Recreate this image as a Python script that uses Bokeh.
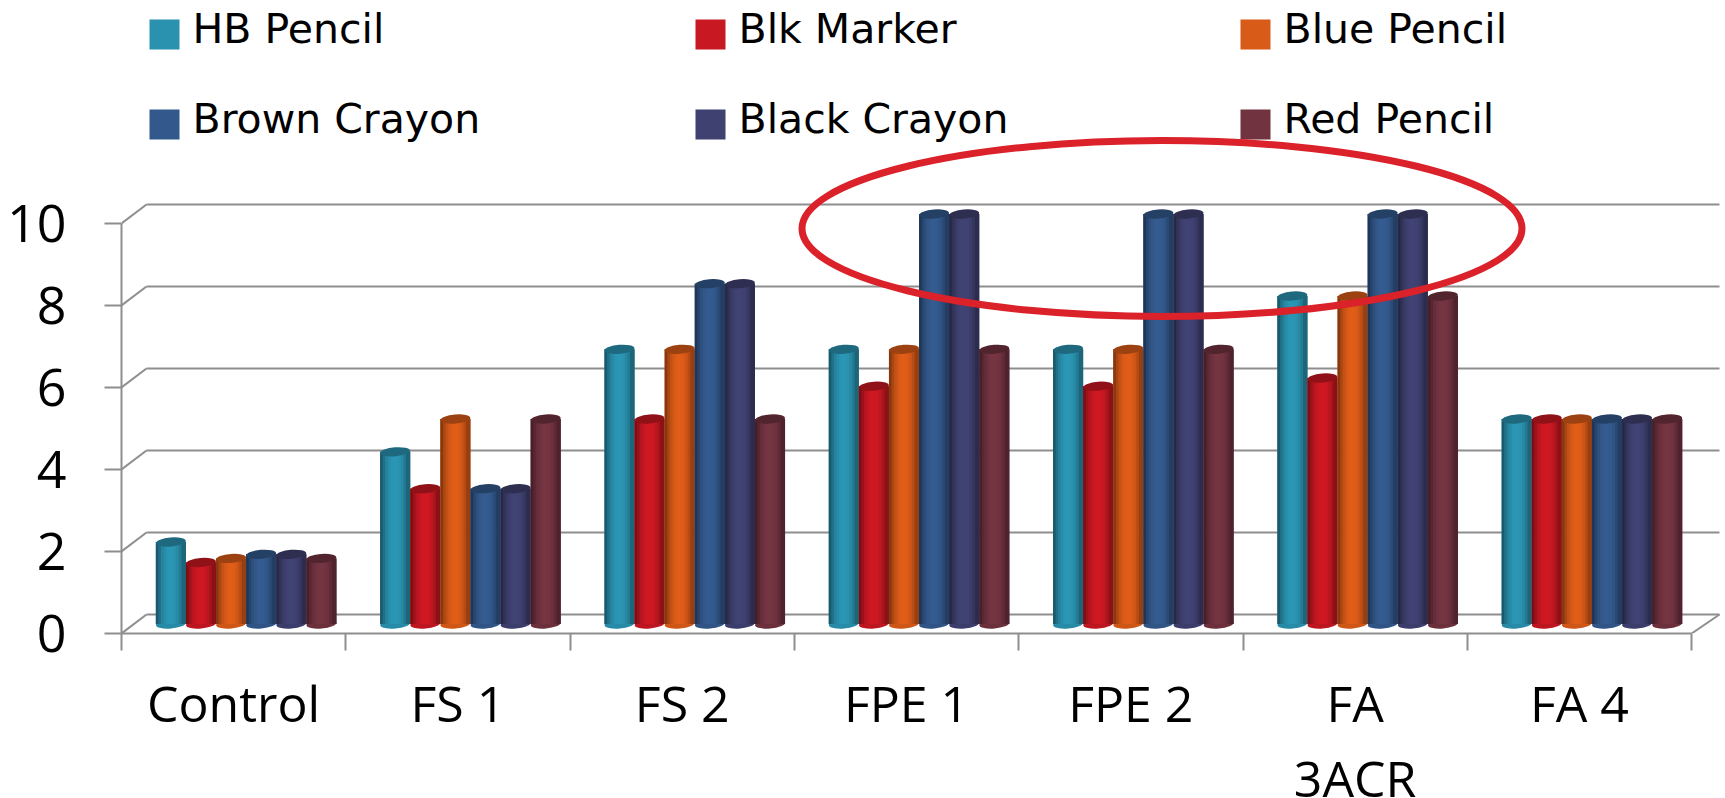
from bokeh.plotting import figure
from bokeh.embed import file_html
from bokeh.resources import INLINE
from bokeh.core.properties import value
from bokeh.models import FixedTicker, LinearAxis, Range1d

categories = ["Control", "FS 1", "FS 2", "FPE 1", "FPE 2", "FA", "FA 4"]
second_line = "3ACR"
y_ticks = [0, 2, 4, 6, 8, 10]

hb_pencil = [2.0, 4.2, 6.7, 6.7, 6.7, 8.0, 5.0]
blk_marker = [1.5, 3.3, 5.0, 5.8, 5.8, 6.0, 5.0]
blue_pencil = [1.6, 5.0, 6.7, 6.7, 6.7, 8.0, 5.0]
brown_crayon = [1.7, 3.3, 8.3, 10.0, 10.0, 10.0, 5.0]
black_crayon = [1.7, 3.3, 8.3, 10.0, 10.0, 10.0, 5.0]
red_pencil = [1.6, 5.0, 5.0, 6.7, 6.7, 8.0, 5.0]

series = [
    ("HB Pencil", hb_pencil, (42, 146, 175)),
    ("Blk Marker", blk_marker, (200, 24, 34)),
    ("Blue Pencil", blue_pencil, (217, 91, 24)),
    ("Brown Crayon", brown_crayon, (51, 89, 140)),
    ("Black Crayon", black_crayon, (63, 65, 112)),
    ("Red Pencil", red_pencil, (114, 51, 65)),
]

W, H = 1725, 798
LEFT, FLOOR = 121, 633       # page position of the front y axis and front floor
PX_X = 224.3                 # pixels per category
PX_Y = 41.0                  # pixels per value unit
DX, DY = 25 / PX_X, 19 / PX_Y  # depth of the 3D floor
BACK_END = (1719 - LEFT) / PX_X
BAR_W = 30.1 / PX_X
GRID = "#8e8e8e"


def px_x(x):
    return (x - LEFT) / PX_X


def px_y(y):
    return (FLOOR - y) / PX_Y


p = figure(
    output_backend="svg", toolbar_location=None,
    width=W, height=H, frame_width=W - LEFT, frame_height=FLOOR,
    min_border_left=LEFT, min_border_right=0, min_border_top=0, min_border_bottom=0,
    x_range=Range1d(0, (W - LEFT) / PX_X), y_range=Range1d(0, FLOOR / PX_Y),
    outline_line_color=None, background_fill_color="white",
)
p.grid.visible = False

# axes
xa = p.xaxis[0]
xa.ticker = FixedTicker(ticks=[i + 0.5 for i in range(7)], minor_ticks=list(range(8)))
xa.major_label_overrides = {i + 0.5: c for i, c in enumerate(categories)}
xa.major_tick_in = 0
xa.major_tick_out = 0
xa.minor_tick_in = 0
xa.minor_tick_out = 17
xa.minor_tick_line_color = GRID
xa.minor_tick_line_width = 2
xa.axis_line_color = GRID
xa.axis_line_width = 2
xa.bounds = (0, 7)
xa.major_label_standoff = 18
xa.major_label_text_font = "Open Sans"
xa.major_label_text_font_size = "50px"
xa.major_label_text_color = "black"

# second line of the wrapped category label
xb = LinearAxis(ticker=FixedTicker(ticks=[5.5]), major_label_overrides={5.5: second_line})
xb.axis_line_color = None
xb.major_tick_line_color = None
xb.minor_tick_line_color = None
xb.major_tick_in = 0
xb.major_tick_out = 0
xb.major_label_standoff = 4
xb.major_label_text_font = "Open Sans"
xb.major_label_text_font_size = "50px"
xb.major_label_text_color = "black"
p.add_layout(xb, "below")

ya = p.yaxis[0]
ya.ticker = FixedTicker(ticks=y_ticks)
ya.major_tick_in = 0
ya.major_tick_out = 17
ya.major_tick_line_color = GRID
ya.major_tick_line_width = 2
ya.minor_tick_line_color = None
ya.axis_line_color = GRID
ya.axis_line_width = 2
ya.bounds = (0, 10)
ya.major_label_standoff = 38
ya.major_label_text_font = "Open Sans"
ya.major_label_text_font_size = "52px"
ya.major_label_text_color = "black"

# 3D back wall grid
n_t = len(y_ticks)
back = [t + DY for t in y_ticks]
p.segment(x0=[0] * n_t, y0=y_ticks, x1=[DX] * n_t, y1=back, line_color=GRID, line_width=2)
p.segment(x0=[DX] * n_t, y0=back, x1=[BACK_END] * n_t, y1=back, line_color=GRID, line_width=2)
p.segment(x0=[7], y0=[0], x1=[BACK_END], y1=[DY], line_color=GRID, line_width=2)

# shading profile across a cylinder, left to right
shade = [0.62, 0.78, 0.9, 0.97, 1.02, 1.04, 1.03, 1.0, 0.94, 0.84, 0.7]
n = len(shade)
STRIP = BAR_W / n * 1.6


def mix(c, f):
    return "#%02x%02x%02x" % tuple(min(255, int(v * f)) for v in c)


for s, (name, vals, col) in enumerate(series):
    centers = [i + 0.5 + DX / 2 + (s - 2.5) * BAR_W for i in range(7)]
    bases = [DY / 2] * 7
    tops = [v + DY / 2 for v in vals]
    p.ellipse(x=centers, y=bases, width=30, height=9, width_units="screen", height_units="screen",
              angle=0.08, fill_color=mix(col, 0.95), line_color=None)
    p.vbar(x=centers, width=BAR_W, bottom=bases, top=tops, fill_color=mix(col, 0.95), line_color=None)
    for k, f in enumerate(shade):
        off = (k / (n - 1) - 0.5) * (BAR_W - STRIP)
        p.vbar(x=[c + off for c in centers], width=STRIP, bottom=bases, top=tops,
               fill_color=mix(col, f), line_color=None)
    p.ellipse(x=centers, y=tops, width=30, height=9, width_units="screen", height_units="screen",
              angle=0.08, fill_color=mix(col, 0.72), line_color=None)

# legend: three columns of two rows, swatch then label
col_x = [149, 695, 1240]
row_y = [34, 124]
for s, (name, vals, col) in enumerate(series):
    cx, cy = col_x[s % 3], row_y[s // 3]
    p.rect(x=[px_x(cx + 15)], y=[px_y(cy)], width=30, height=30, width_units="screen", height_units="screen",
           fill_color=mix(col, 1.0), line_color=None)
    p.text(x=[px_x(cx + 43)], y=[px_y(cy - 6)], text=[name], text_font=value("DejaVu Sans"),
           text_font_size="41px", text_color="black", text_baseline="alphabetic", text_align="left")

# red hand-drawn emphasis ellipse
p.ellipse(x=[px_x(1161.5)], y=[px_y(228)], width=[720], height=[176], width_units="screen", height_units="screen",
          fill_color=None, line_color="#db2129", line_width=7)

open("out.html", "w").write(file_html(p, INLINE))
